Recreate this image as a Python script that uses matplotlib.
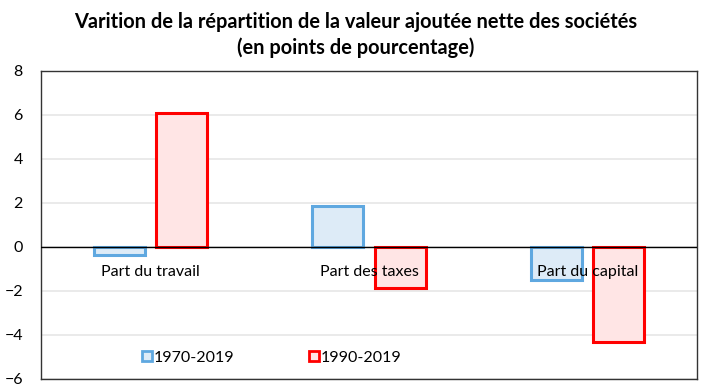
import numpy as np
import matplotlib.pyplot as plt

# values
categories = ['Part du travail', 'Part des taxes', 'Part du capital']
serie_1970 = [-0.35, 1.85, -1.5]
serie_1990 = [6.1, -1.85, -4.3]
labels = ['1970-2019', '1990-2019']

plt.rcParams['font.family'] = ['Lato', 'DejaVu Sans']

fig = plt.figure(figsize=(7.11, 3.89), dpi=100)
ax = fig.add_axes([41/711, 1 - 379/389, 656/711, 308/389])

x = np.arange(len(categories))
w = 0.233
off = 0.142
ax.bar(x - off, serie_1970, w, color='#ddebf7', edgecolor='#5fa8e0', linewidth=2.2,
       label=labels[0], zorder=3)
ax.bar(x + off, serie_1990, w, color='#ffe5e5', edgecolor='#ff0000', linewidth=2.2,
       label=labels[1], zorder=3)

ax.set_xlim(-0.5, 2.5)
ax.set_ylim(-6, 8)
ax.set_yticks(np.arange(-6, 9, 2))
ax.set_xticks([])
ax.tick_params(axis='y', length=0, labelsize=11.5, pad=13)
ax.grid(axis='y', color='#e6e6e6', linewidth=1.2, zorder=0)
ax.axhline(0, color='black', linewidth=1, zorder=4)
for s in ax.spines.values():
    s.set_color('#333333')
    s.set_linewidth(1)

# category labels next to the zero line
for i, c in enumerate(categories):
    ax.text(i, -1.12, c, ha='center', va='center', fontsize=11.5, zorder=5)

# legend
h1 = plt.Line2D([], [], marker='s', linestyle='None', markersize=7,
                markerfacecolor='#ddebf7', markeredgecolor='#5fa8e0', markeredgewidth=2)
h2 = plt.Line2D([], [], marker='s', linestyle='None', markersize=7,
                markerfacecolor='#ffe5e5', markeredgecolor='#ff0000', markeredgewidth=2)
ax.legend([h1, h2], labels, ncol=2, loc='lower left', bbox_to_anchor=(0.13, 0.0),
          frameon=False, fontsize=11.5, handletextpad=0.0, columnspacing=4.6,
          handlelength=0.8)

fig.text(0.5, 1 - 35/389, 'Varition de la répartition de la valeur ajoutée nette des sociétés\n(en points de pourcentage)',
         ha='center', va='center', fontsize=14.4, fontweight='bold', linespacing=1.3)

fig.savefig('out.png', dpi=100)
